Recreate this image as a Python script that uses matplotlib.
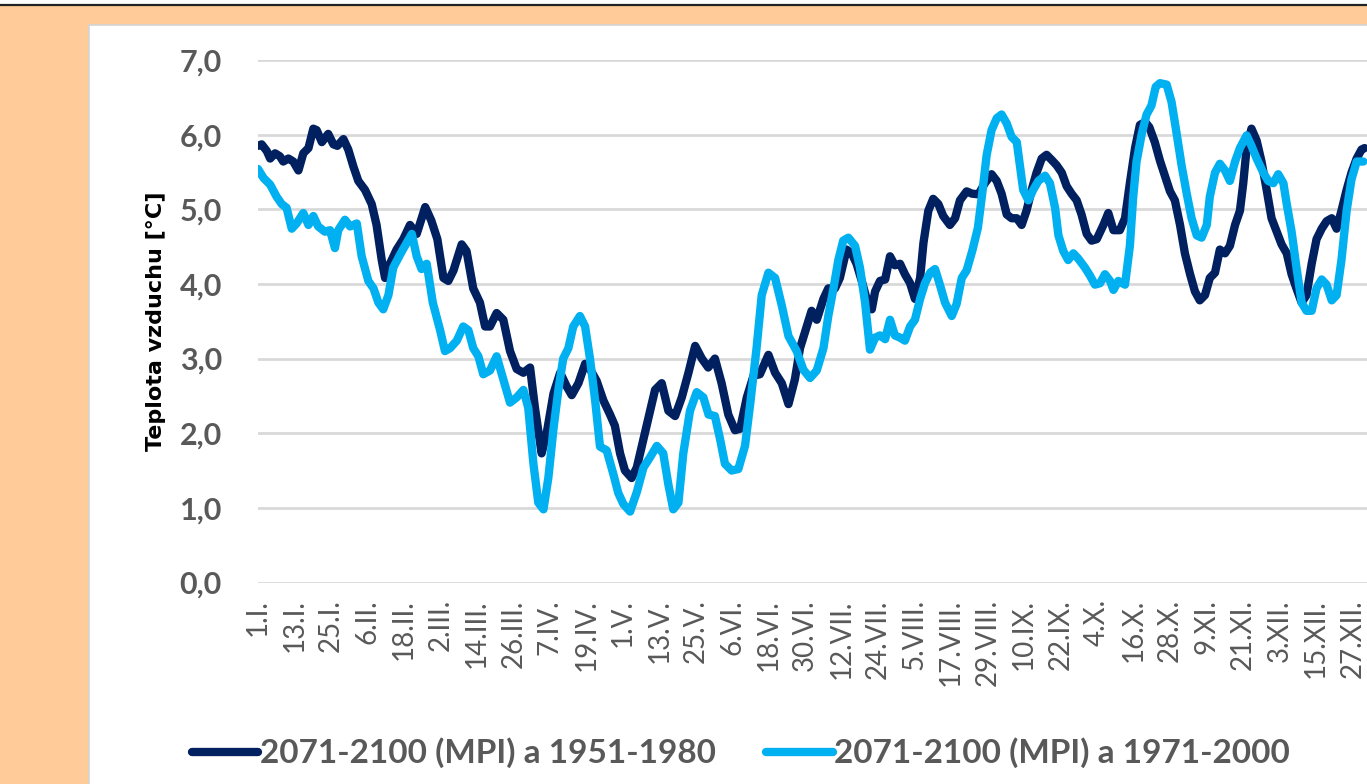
import matplotlib
matplotlib.use("Agg")
import matplotlib.pyplot as plt
from matplotlib.patches import Rectangle
from matplotlib.lines import Line2D

plt.rcParams['font.family'] = ['Lato', 'DejaVu Sans']

# Day of year (0 = 1.I.) and air temperature difference [°C]
day_dark = [0, 1.2, 2.9, 4, 5.6, 7.2, 8.3, 10, 11.6, 13.3, 14.9, 16.6, 18.2, 19.3, 21, 23.1,
            24.8, 26.1, 28.1, 29.7, 31.4, 33, 35.2, 37.4, 39, 40.7, 41.8, 43.4, 45.6, 47.8,
            50, 52.2, 55, 57, 59, 61, 62.6, 64.3, 67, 68.6, 70.8, 73, 74.7, 76.3, 78.5,
            80.7, 82.9, 85.1, 87.3, 89.5, 91.1, 93.3, 95, 97.2, 99.4, 101.5, 103.2, 105.4,
            107.6, 109.2, 111.4, 113.6, 115.8, 117.4, 119.1, 120.7, 122.9, 124.6, 126.8,
            129, 130.6, 132.8, 135, 137.2, 139.4, 141.6, 143.8, 146, 148.1, 150.3, 152.5,
            154.7, 156.9, 158.6, 160.8, 163, 165.1, 167.9, 170.1, 172.3, 174.5, 176.6,
            178.3, 180.5, 182.1, 183.8, 186, 187.6, 189.8, 191.4, 193.6, 195.3, 196.9,
            198.6, 200.2, 201.9, 203, 204.6, 206.3, 207.9, 209.5, 211.2, 212.8, 214.5,
            216.1, 217.8, 218.9, 220.5, 222.1, 223.8, 225.4, 227.6, 229.3, 230.9, 233.1,
            234.8, 237, 239.1, 241.3, 243, 244.6, 246.3, 247.9, 249.6, 251.2, 252.8, 254.5,
            256.1, 257.8, 259.4, 261.1, 262.7, 264.4, 266, 267.6, 269.3, 270.9, 272.6,
            274.2, 275.9, 278.1, 279.7, 281.4, 283.5, 285.2, 286.8, 288.5, 290.1, 291.8,
            293.2, 295, 296.7, 298.3, 300, 301.6, 303.3, 304.9, 306.6, 308.2, 309.8, 311.5,
            313.1, 314.8, 316.4, 318.1, 319.7, 321.4, 323, 324.1, 325.2, 326.8, 328.5,
            330.1, 331.8, 333.4, 335.1, 336.7, 338.4, 340, 341.6, 343.3, 344.9, 346.6,
            348.2, 349.9, 351.5, 353.2, 354.8, 356.4, 358.1, 359.7, 361.4, 363, 364]
temp_dark = [5.85, 5.87, 5.78, 5.68, 5.75, 5.71, 5.64, 5.68, 5.64, 5.52, 5.75, 5.82, 6.08, 6.06,
             5.90, 6.01, 5.87, 5.85, 5.94, 5.80, 5.57, 5.38, 5.26, 5.07, 4.79, 4.32, 4.08,
             4.27, 4.46, 4.60, 4.79, 4.67, 5.03, 4.85, 4.60, 4.08, 4.04, 4.18, 4.53, 4.44,
             3.94, 3.75, 3.43, 3.43, 3.61, 3.52, 3.10, 2.86, 2.81, 2.88, 2.34, 1.73, 2.01,
             2.53, 2.81, 2.63, 2.51, 2.67, 2.93, 2.86, 2.70, 2.44, 2.25, 2.10, 1.73, 1.50,
             1.40, 1.54, 1.92, 2.30, 2.58, 2.67, 2.30, 2.23, 2.48, 2.81, 3.17, 3.00, 2.88,
             3.00, 2.67, 2.25, 2.04, 2.06, 2.48, 2.77, 2.79, 3.05, 2.81, 2.67, 2.39, 2.72,
             3.14, 3.43, 3.64, 3.52, 3.80, 3.94, 3.94, 4.08, 4.46, 4.41, 4.27, 4.04, 3.80,
             3.66, 3.90, 4.04, 4.06, 4.37, 4.25, 4.27, 4.13, 4.01, 3.80, 4.08, 4.55, 4.98,
             5.14, 5.07, 4.91, 4.79, 4.88, 5.12, 5.24, 5.21, 5.20, 5.35, 5.47, 5.38, 5.21,
             4.93, 4.88, 4.88, 4.79, 4.98, 5.26, 5.49, 5.68, 5.73, 5.66, 5.59, 5.49, 5.31,
             5.21, 5.12, 4.93, 4.67, 4.58, 4.60, 4.79, 4.95, 4.72, 4.72, 4.88, 5.35, 5.82,
             6.13, 6.17, 6.10, 5.90, 5.65, 5.45, 5.24, 5.12, 4.79, 4.41, 4.13, 3.90, 3.78,
             3.85, 4.08, 4.15, 4.46, 4.41, 4.51, 4.79, 4.98, 5.35, 5.82, 6.08, 5.92, 5.64,
             5.26, 4.88, 4.70, 4.53, 4.41, 4.13, 3.94, 3.75, 3.85, 4.27, 4.60, 4.74, 4.84,
             4.88, 4.74, 4.98, 5.26, 5.49, 5.68, 5.80, 5.82]

day_light = [0, 1.8, 4, 6.1, 7.8, 9.4, 11.1, 12.7, 14.9, 16.6, 18.2, 19.8, 22, 23.7, 25.3,
             26.4, 28.6, 30.3, 32.5, 34.1, 36.3, 38, 39.6, 41.2, 42.9, 44.5, 46.7, 48.9,
             50.6, 52.2, 53.8, 55.5, 57.5, 59.9, 61.5, 63.2, 65.4, 67.5, 69.2, 70.8, 72.5,
             74.1, 76.3, 78.5, 80.7, 82.9, 85.1, 87.3, 88.9, 90.6, 92.2, 93.9, 95.5, 97.2,
             98.8, 100.4, 102.1, 103.7, 105.9, 107.6, 109.2, 110.9, 112.5, 114.7, 116.9,
             118.5, 120.2, 122.4, 124.6, 126.8, 129, 131.2, 133.3, 135, 136.6, 138.3, 139.9,
             142.1, 144.3, 146.5, 148.2, 150.3, 152, 153.6, 155.8, 158, 160.2, 161.9, 164,
             165.7, 167.9, 170.1, 172.3, 174.5, 177.2, 179.4, 181.6, 183.8, 186, 187.6,
             189.3, 190.9, 192.5, 194.2, 196.4, 198, 199.7, 201.3, 203, 204.6, 206.3, 207.9,
             209.5, 211.2, 212.8, 214.5, 216.1, 217.8, 219.4, 221.1, 222.7, 224.3, 226,
             228.2, 229.8, 231.5, 233.1, 235, 236.8, 238.2, 239.7, 241.3, 243, 244.6, 246.3,
             247.9, 249.6, 250.6, 251.7, 253.4, 255, 256.7, 258.9, 260.5, 262.2, 263.3,
             264.9, 266.5, 268.2, 269.8, 272, 273.7, 275.3, 277, 278.6, 280.3, 281.4, 283,
             285.2, 286.8, 287.9, 289, 290.7, 292.3, 293.9, 295.3, 296.7, 298.9, 300.5,
             302.2, 303.8, 305.5, 307.1, 308.8, 310.4, 312.1, 313.1, 314.8, 316.4, 318.1,
             319.7, 321.4, 323, 325.2, 326.8, 328.5, 330.7, 332.3, 334, 335.6, 337.3, 338.4,
             340, 341.6, 343.3, 344.9, 346.6, 348.2, 349.9, 351.5, 353.2, 354.8, 356.4,
             358.1, 359.7, 361.4, 363.6]
temp_light = [5.54, 5.42, 5.33, 5.17, 5.07, 5.02, 4.74, 4.81, 4.95, 4.79, 4.91, 4.77, 4.70,
              4.72, 4.48, 4.72, 4.86, 4.77, 4.81, 4.37, 4.04, 3.94, 3.75, 3.66, 3.85, 4.22,
              4.39, 4.55, 4.67, 4.37, 4.20, 4.27, 3.75, 3.38, 3.10, 3.14, 3.24, 3.43, 3.38,
              3.14, 3.03, 2.79, 2.84, 3.03, 2.72, 2.41, 2.48, 2.58, 2.34, 1.59, 1.07, 0.98,
              1.40, 2.06, 2.58, 3.00, 3.14, 3.43, 3.57, 3.43, 3.00, 2.44, 1.82, 1.77, 1.45,
              1.20, 1.05, 0.95, 1.21, 1.54, 1.68, 1.83, 1.73, 1.31, 0.98, 1.07, 1.73, 2.30,
              2.55, 2.48, 2.25, 2.23, 1.92, 1.59, 1.50, 1.52, 1.83, 2.39, 3.14, 3.85, 4.15,
              4.08, 3.71, 3.30, 3.10, 2.85, 2.74, 2.84, 3.14, 3.57, 3.94, 4.32, 4.58, 4.62,
              4.51, 4.22, 3.75, 3.12, 3.28, 3.31, 3.26, 3.52, 3.31, 3.28, 3.24, 3.43, 3.52,
              3.80, 4.01, 4.15, 4.20, 3.99, 3.75, 3.57, 3.73, 4.08, 4.18, 4.45, 4.75, 5.20,
              5.73, 6.06, 6.22, 6.27, 6.15, 5.97, 5.90, 5.59, 5.26, 5.12, 5.26, 5.38, 5.45,
              5.35, 5.02, 4.65, 4.44, 4.32, 4.41, 4.34, 4.22, 4.11, 3.99, 4.01, 4.13, 4.04,
              3.92, 4.04, 3.99, 4.51, 5.17, 5.64, 6.01, 6.27, 6.39, 6.64, 6.69, 6.67, 6.44,
              6.01, 5.59, 5.21, 4.88, 4.65, 4.62, 4.79, 5.17, 5.49, 5.61, 5.52, 5.38, 5.64,
              5.82, 5.99, 5.85, 5.68, 5.49, 5.38, 5.35, 5.47, 5.35, 5.07, 4.70, 4.22, 3.75,
              3.64, 3.64, 3.94, 4.06, 3.99, 3.78, 3.85, 4.32, 4.98, 5.40, 5.64, 5.64]

series_names = ['2071-2100 (MPI) a 1951-1980', '2071-2100 (MPI) a 1971-2000']
x_labels = ['1.I.', '13.I.', '25.I.', '6.II.', '18.II.', '2.III.', '14.III.', '26.III.',
            '7.IV.', '19.IV.', '1.V.', '13.V.', '25.V.', '6.VI.', '18.VI.', '30.VI.',
            '12.VII.', '24.VII.', '5.VIII.', '17.VIII.', '29.VIII.', '10.IX.', '22.IX.',
            '4.X.', '16.X.', '28.X.', '9.XI.', '21.XI.', '3.XII.', '15.XII.', '27.XII.']
y_labels = ['0,0', '1,0', '2,0', '3,0', '4,0', '5,0', '6,0', '7,0']

W, H = 1367, 784
fig = plt.figure(figsize=(W / 100, H / 100), dpi=100, facecolor='#FFCC99')

# white strip + black rule at the very top, white chart panel
fig.patches.append(Rectangle((0, 1 - 4 / H), 1, 4 / H, transform=fig.transFigure,
                             facecolor='white', edgecolor='none', zorder=-10))
fig.add_artist(Line2D([0, 1], [1 - 5 / H, 1 - 5 / H], transform=fig.transFigure,
                      color='#222222', lw=1.6, zorder=-5))
fig.patches.append(Rectangle((89 / W, -0.01), 1.0, 1 - 25 / H + 0.01, transform=fig.transFigure,
                             facecolor='white', edgecolor='#D4D4D4', lw=1.2, zorder=-10))

ax = fig.add_axes([258 / W, 1 - 582.5 / H, 1 - 258 / W, (582.5 - 60) / H])
ax.set_facecolor('none')

dark, = ax.plot(day_dark, temp_dark, color='#002060', lw=6,
                solid_joinstyle='round', solid_capstyle='round', zorder=3)
light, = ax.plot(day_light, temp_light, color='#00B0F0', lw=6,
                 solid_joinstyle='round', solid_capstyle='round', zorder=4)

ax.set_xlim(0, (W - 258) / 3.04)
ax.set_ylim(0, 7)
ax.set_yticks(range(len(y_labels)))
ax.set_yticklabels(y_labels, fontsize=22, fontweight='bold', color='#595959')
ax.set_xticks(range(0, 12 * len(x_labels), 12))
ax.set_xticklabels(x_labels, rotation=90, fontsize=20, color='#595959', va='top')
ax.tick_params(axis='y', length=0, pad=26)
ax.tick_params(axis='x', length=0, pad=12)
ax.grid(axis='y', color='#D9D9D9', lw=2)
ax.set_axisbelow(True)
for s in ax.spines.values():
    s.set_visible(False)

ax.set_ylabel('Teplota vzduchu [°C]', fontsize=16, fontweight='bold', color='black',
              family='DejaVu Sans', labelpad=10)

fig.legend([dark, light], series_names, loc='center', bbox_to_anchor=(0.542, 1 - 753 / H),
           ncol=2, frameon=False, handlelength=2.0, handletextpad=0.05, columnspacing=1.5,
           prop={'size': 24, 'weight': 'bold'}, labelcolor='#595959')

fig.savefig('out.png', dpi=100, facecolor=fig.get_facecolor())
